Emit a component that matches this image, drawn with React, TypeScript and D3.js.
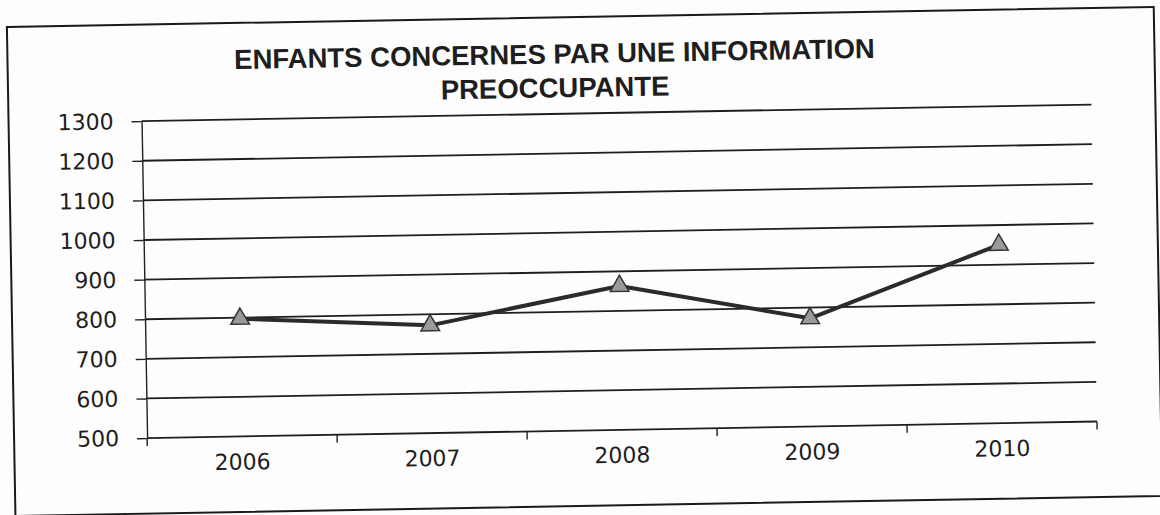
import React, { useRef, useEffect } from 'react';
import * as d3 from 'd3';

// valeurs
const years = ['2006', '2007', '2008', '2009', '2010'];
const enfants = [797, 772, 863, 773, 950];
const yTicks = [500, 600, 700, 800, 900, 1000, 1100, 1200, 1300];
const titleLines = ['ENFANTS CONCERNES PAR UNE INFORMATION', 'PREOCCUPANTE'];

const W = 1160;
const H = 515;

const App = () => {
  const ref = useRef<SVGSVGElement | null>(null);

  useEffect(() => {
    const svg = d3.select(ref.current);
    svg.selectAll('*').remove();

    svg.append('rect').attr('width', W).attr('height', H).attr('fill', '#fdfdfd');

    // the scan is slightly tilted
    const root = svg.append('g').attr('transform', `rotate(-1, 580, 257)`);

    // cadre
    root.append('rect')
      .attr('x', 11).attr('y', 17)
      .attr('width', 1147).attr('height', 489)
      .attr('fill', 'none')
      .attr('stroke', '#1a1a1a')
      .attr('stroke-width', 2);

    const margin = { top: 113.5, left: 144, right: W - 1094, bottom: H - 430.5 };
    const width = W - margin.left - margin.right;
    const height = H - margin.top - margin.bottom;

    const g = root.append('g').attr('transform', `translate(${margin.left},${margin.top})`);

    const x = d3.scaleBand().domain(years).range([0, width]).padding(0);
    const y = d3.scaleLinear().domain([500, 1300]).range([height, 0]);

    // titre
    root.selectAll('.title')
      .data(titleLines)
      .enter()
      .append('text')
      .attr('class', 'title')
      .attr('x', 558)
      .attr('y', (_, i) => 63 + i * 34)
      .attr('text-anchor', 'middle')
      .style('font-family', '"Liberation Sans", Arial, sans-serif')
      .style('font-weight', 'bold')
      .style('font-size', '27.5px')
      .style('fill', '#1e1e1e')
      .text(d => d);

    // lignes de quadrillage
    g.selectAll('.grid')
      .data(yTicks)
      .enter()
      .append('line')
      .attr('x1', 0)
      .attr('x2', width)
      .attr('y1', d => y(d))
      .attr('y2', d => y(d))
      .attr('stroke', '#1e1e1e')
      .attr('stroke-width', 1.8);

    // axe Y
    const yAxis = g.append('g')
      .call(d3.axisLeft(y).tickValues(yTicks).tickSize(10).tickSizeOuter(0).tickPadding(18).tickFormat(d3.format('d')));
    yAxis.select('.domain').attr('stroke', '#222').attr('stroke-width', 1.4);
    yAxis.selectAll('.tick line').attr('stroke', '#222').attr('stroke-width', 1.4);
    yAxis.selectAll('text')
      .style('font-family', '"DejaVu Sans", Verdana, sans-serif')
      .style('font-size', '22px')
      .style('fill', '#1e1e1e');

    // axe X : graduations entre les catégories
    const bounds = years.map(d => x(d) as number).concat([width]);
    g.selectAll('.xtick')
      .data(bounds)
      .enter()
      .append('line')
      .attr('x1', d => d)
      .attr('x2', d => d)
      .attr('y1', height)
      .attr('y2', height + 8)
      .attr('stroke', '#222')
      .attr('stroke-width', 1.4);

    g.selectAll('.xlabel')
      .data(years)
      .enter()
      .append('text')
      .attr('x', d => (x(d) as number) + x.bandwidth() / 2)
      .attr('y', height + 33)
      .attr('text-anchor', 'middle')
      .style('font-family', '"DejaVu Sans", Verdana, sans-serif')
      .style('font-size', '22px')
      .style('fill', '#1e1e1e')
      .text(d => d);

    // la courbe
    const cx = (d: string) => (x(d) as number) + x.bandwidth() / 2;
    const line = d3.line<number>()
      .x((_, i) => cx(years[i]))
      .y(d => y(d));

    g.append('path')
      .datum(enfants)
      .attr('d', line)
      .attr('fill', 'none')
      .attr('stroke', '#2b2b2b')
      .attr('stroke-width', 4)
      .attr('stroke-linejoin', 'round');

    // marqueurs triangles
    g.selectAll('.marker')
      .data(enfants)
      .enter()
      .append('path')
      .attr('d', d3.symbol().type(d3.symbolTriangle).size(150))
      .attr('transform', (d, i) => `translate(${cx(years[i])},${y(d)})`)
      .attr('fill', '#9a9a9a')
      .attr('stroke', '#333')
      .attr('stroke-width', 1.5);
  }, []);

  return (
    <svg ref={ref} width={W} height={H} style={{ position: 'absolute', left: 0, top: 0 }}></svg>
  );
};

export default App;
